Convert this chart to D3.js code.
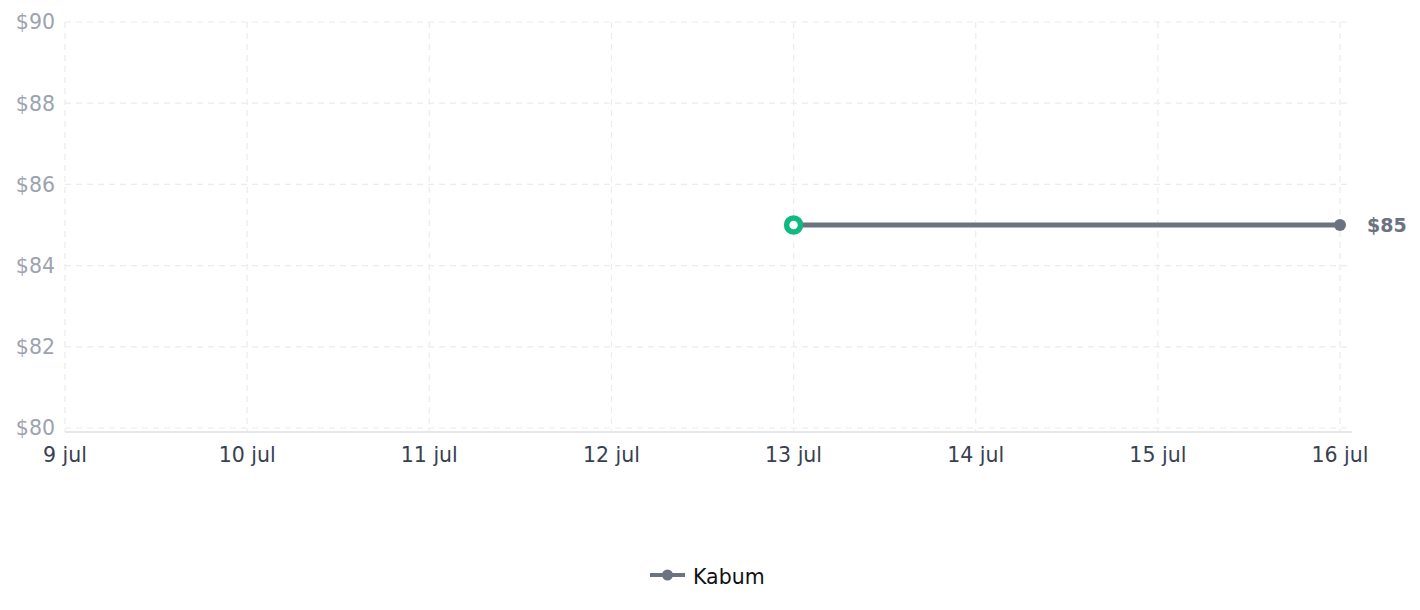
<!DOCTYPE html>
<html><head><meta charset="utf-8">
<script src="https://cdn.jsdelivr.net/npm/d3@7"></script>
<style>body{margin:0;background:#fff}svg{display:block;font-family:"DejaVu Sans",sans-serif}</style>
</head><body><svg id="c" width="1420" height="610"></svg>
<script>
const dates = ["2024-07-09","2024-07-10","2024-07-11","2024-07-12","2024-07-13","2024-07-14","2024-07-15","2024-07-16"];
const tickLabels = ["9 jul","10 jul","11 jul","12 jul","13 jul","14 jul","15 jul","16 jul"];
const seriesDates = ["2024-07-13","2024-07-16"];
const seriesValues = [85, 85];
const yTicks = [80,82,84,86,88,90];
const seriesName = "Kabum";

const parse = d3.timeParse("%Y-%m-%d");
const svg = d3.select("#c");
const x = d3.scaleTime().domain([parse(dates[0]), parse(dates[dates.length-1])]).range([65,1340]);
const y = d3.scaleLinear().domain([80,90]).range([428,22]);

const g = svg.append("g");
g.selectAll(".hg").data(yTicks).join("line")
  .attr("x1",65).attr("x2",1350).attr("y1",d=>y(d)).attr("y2",d=>y(d))
  .attr("stroke","#ececec").attr("stroke-width",1.2).attr("stroke-dasharray","6,5");
g.selectAll(".vg").data(dates).join("line")
  .attr("x1",d=>x(parse(d))).attr("x2",d=>x(parse(d))).attr("y1",22).attr("y2",432)
  .attr("stroke","#ececec").attr("stroke-width",1.2).attr("stroke-dasharray","6,5");
g.append("line").attr("x1",65).attr("x2",1352).attr("y1",432).attr("y2",432)
  .attr("stroke","#e5e7eb").attr("stroke-width",2);

g.selectAll(".yl").data(yTicks).join("text")
  .attr("x",55).attr("y",d=>y(d)).attr("dy","0.36em").attr("text-anchor","end")
  .attr("font-size",20.5).attr("fill","#9ca3af").text(d=>"$"+d);
g.selectAll(".xl").data(dates).join("text")
  .attr("x",d=>x(parse(d))).attr("y",455).attr("dy","0.36em").attr("text-anchor","middle")
  .attr("font-size",20.5).attr("fill","#374151").text((d,i)=>tickLabels[i]);

const pts = seriesDates.map((d,i)=>({d:parse(d),v:seriesValues[i]}));
g.append("path").datum(pts)
  .attr("d", d3.line().x(p=>x(p.d)).y(p=>y(p.v)))
  .attr("fill","none").attr("stroke","#6b7280").attr("stroke-width",5);
const last = pts[pts.length-1];
g.append("circle").attr("cx",x(last.d)).attr("cy",y(last.v)).attr("r",6).attr("fill","#6b7280");
const first = pts[0];
g.append("circle").attr("cx",x(first.d)).attr("cy",y(first.v)).attr("r",7)
  .attr("fill","#fff").attr("stroke","#10b981").attr("stroke-width",5.5);
g.append("text").attr("x",x(last.d)+27).attr("y",y(last.v)).attr("dy","0.36em")
  .attr("font-size",19).attr("font-weight","bold").attr("fill","#6b7280").text("$"+last.v);

const lg = svg.append("g");
lg.append("line").attr("x1",650).attr("x2",685).attr("y1",575).attr("y2",575)
  .attr("stroke","#6b7280").attr("stroke-width",4);
lg.append("circle").attr("cx",667.5).attr("cy",575).attr("r",5.5).attr("fill","#6b7280");
lg.append("text").attr("x",693).attr("y",577).attr("dy","0.36em").attr("font-size",20.5)
  .attr("fill","#111").text(seriesName);
</script></body></html>
